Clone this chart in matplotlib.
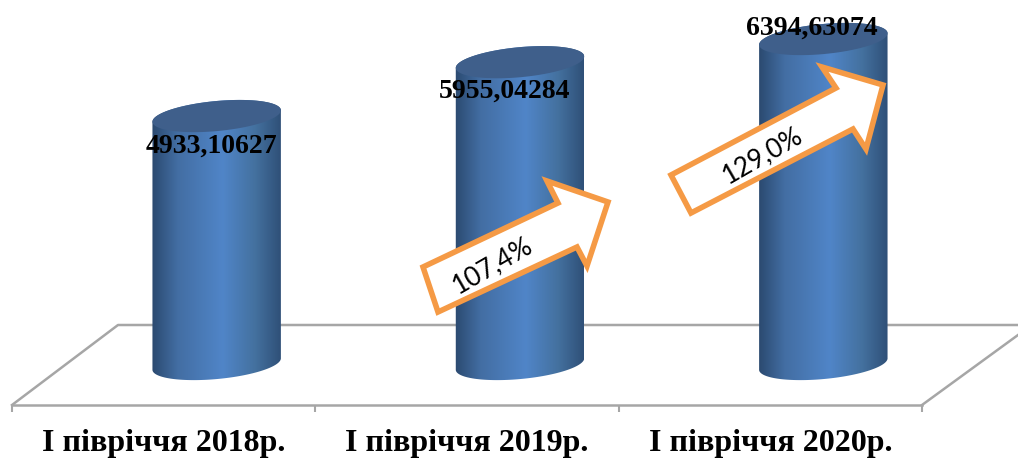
import matplotlib
matplotlib.use('Agg')
import matplotlib.pyplot as plt
import numpy as np
from matplotlib.colors import LinearSegmentedColormap
from matplotlib.patches import Polygon

categories = ['І півріччя 2018р.', 'І півріччя 2019р.', 'І півріччя 2020р.']
values = [4933.10627, 5955.04284, 6394.63074]
value_labels = ['4933,10627', '5955,04284', '6394,63074']
growth_labels = ['107,4%', '129,0%']

W, H = 1018, 458
SERIF = 'Liberation Serif'

# pixel placement of the labels and arrows, the original is hand-arranged
label_pos = [(211, 146), (505, 91), (812, 28)]
arrow_shapes = [
    [(423, 267), (558, 203), (547, 181), (608, 202), (587, 266), (577, 247), (438, 312)],
    [(671, 175), (836, 88), (822, 67), (883, 85), (866, 149), (853, 129), (691, 213)],
]
growth_pos = [(493, 265), (763, 155)]

cyl_cmap = LinearSegmentedColormap.from_list(
    'cyl', [(0, '#2b4a70'), (0.2, '#436ea3'), (0.55, '#5085c8'), (0.8, '#44719f'), (1, '#2f5078')])

fig = plt.figure(figsize=(W / 100, H / 100), dpi=100)

# the real axis, bottom edge is the front of the floor
ax = fig.add_axes([12 / W, (H - 405) / H, 910 / W, 405 / H])
ax.set_xlim(0, 3)
ax.set_ylim(-436, 7249)
ax.patch.set_visible(False)
for side in ['top', 'left', 'right']:
    ax.spines[side].set_visible(False)
ax.spines['bottom'].set_color('#a6a6a6')
ax.spines['bottom'].set_linewidth(1.8)
ax.set_yticks([])
ax.set_xticks([0, 1, 2, 3])
ax.set_xticklabels([])
ax.tick_params(axis='x', which='major', length=5, width=1.5, color='#a6a6a6')
ax.set_xticks([0.5, 1.5, 2.5], minor=True)
ax.set_xticklabels(categories, minor=True, family=SERIF, weight='bold', fontsize=23)
ax.tick_params(axis='x', which='minor', length=0, pad=17, labelcolor='black')

# overlay in pixels for the fake 3d parts
ov = fig.add_axes([0, 0, 1, 1])
ov.set_xlim(0, W)
ov.set_ylim(H, 0)
ov.axis('off')
ov.patch.set_visible(False)

ov.plot([12, 118, W], [405, 325, 325], color='#a6a6a6', lw=1.8, zorder=1)
ov.plot([922, W], [405, 335], color='#a6a6a6', lw=1.8, zorder=1)


def ellipse(cx, cy, a=64.5, b=15.0, tilt=0.094, t0=0, t1=2 * np.pi):
    t = np.linspace(t0, t1, 80)
    ex = a * np.cos(t)
    ey = b * np.sin(t)
    return np.column_stack([cx + ex * np.cos(tilt) + ey * np.sin(tilt),
                            cy - ex * np.sin(tilt) + ey * np.cos(tilt)])


grad = np.linspace(0, 1, 256).reshape(1, -1)
for i, v in enumerate(values):
    px, py = ax.transData.transform((i + 0.5, v))
    cx = px + 53
    top_y = H - py - 6      # value scale gives the left edge, centre sits higher
    base_y = 364
    lower = ellipse(cx, base_y, t0=0, t1=np.pi)
    upper = ellipse(cx, top_y, t0=np.pi, t1=2 * np.pi)
    body = Polygon(np.vstack([lower, upper]), closed=True, transform=ov.transData,
                   facecolor='none', edgecolor='none')
    ov.add_patch(body)
    im = ov.imshow(grad, cmap=cyl_cmap, aspect='auto', zorder=2,
                   extent=(cx - 64.5, cx + 64.5, 385, top_y - 20))
    im.set_clip_path(body)
    ov.add_patch(Polygon(ellipse(cx, top_y), closed=True, facecolor='#3f5f8b',
                         edgecolor='none', zorder=3))

ov.set_xlim(0, W)
ov.set_ylim(H, 0)

for pts, txt, pos in zip(arrow_shapes, growth_labels, growth_pos):
    ov.add_patch(Polygon(pts, closed=True, facecolor='white', edgecolor='#f59a45',
                         lw=4, joinstyle='miter', zorder=4))
    ov.text(pos[0], pos[1], txt, rotation=30, rotation_mode='anchor', ha='center', va='center',
            family='Lato', fontsize=19, color='black', zorder=5)

for pos, txt in zip(label_pos, value_labels):
    ov.text(pos[0], pos[1], txt, ha='center', va='center', family=SERIF, weight='bold',
            fontsize=20, color='black', zorder=6)

fig.savefig('out.png', dpi=100)
